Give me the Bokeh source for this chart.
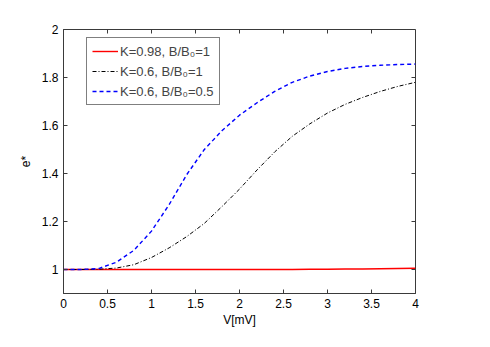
import math
from bokeh.plotting import figure
from bokeh.models import Range1d, FixedTicker
from bokeh.embed import file_html
from bokeh.resources import INLINE

# ---- data ----
V = [0.0, 0.2, 0.4, 0.6, 0.8, 1.0, 1.2, 1.4, 1.6, 1.8, 2.0,
     2.2, 2.4, 2.6, 2.8, 3.0, 3.2, 3.4, 3.6, 3.8, 4.0]
e_K098_B1 = [1.000, 1.000, 1.000, 1.000, 1.000, 1.000, 1.000, 1.000, 1.000, 1.000, 1.000,
             1.000, 1.000, 1.000, 1.001, 1.001, 1.002, 1.002, 1.003, 1.004, 1.005]
e_K06_B1 = [1.000, 1.000, 1.001, 1.006, 1.020, 1.050, 1.090, 1.137, 1.192, 1.262, 1.335,
            1.415, 1.490, 1.555, 1.607, 1.652, 1.688, 1.717, 1.742, 1.763, 1.780]
e_K06_B05 = [1.000, 1.000, 1.004, 1.030, 1.080, 1.160, 1.270, 1.395, 1.500, 1.578, 1.643,
             1.695, 1.742, 1.780, 1.806, 1.825, 1.838, 1.846, 1.851, 1.854, 1.856]
labels = ["K=0.98, B/B\u2080=1", "K=0.6, B/B\u2080=1", "K=0.6, B/B\u2080=0.5"]
x_ticks = [0, 0.5, 1, 1.5, 2, 2.5, 3, 3.5, 4]
y_ticks = [1, 1.2, 1.4, 1.6, 1.8, 2]
x_label = "V[mV]"
y_label = "e*"

FONT = "Liberation Sans"
AX = "#3a3a3a"
X0, X1 = 0, 4
Y0, Y1 = 0.9, 2.0

p = figure(width=482, height=339, output_backend="svg", toolbar_location=None,
           x_range=Range1d(X0, X1), y_range=Range1d(Y0, Y1),
           min_border_left=63, min_border_right=67, min_border_top=29, min_border_bottom=46,
           background_fill_color="white", border_fill_color="white")
p.grid.visible = False
p.outline_line_color = AX

p.line(V, e_K098_B1, line_color="#ff0000", line_width=1.4, legend_label=labels[0])
p.line(V, e_K06_B1, line_color="black", line_width=1.0, line_dash="4 2 1 2", legend_label=labels[1])
p.line(V, e_K06_B05, line_color="#0000ff", line_width=1.4, line_dash="4 3", legend_label=labels[2])

# inward ticks on the top and right edges (box on)
p.ray(x=x_ticks, y=[Y1] * len(x_ticks), length=4, length_units="screen",
      angle=-math.pi / 2, line_color=AX, line_width=1)
p.ray(x=[X1] * len(y_ticks), y=y_ticks, length=4, length_units="screen",
      angle=math.pi, line_color=AX, line_width=1)

for ax in (p.xaxis[0], p.yaxis[0]):
    ax.axis_line_color = AX
    ax.major_tick_line_color = AX
    ax.major_tick_in = 4
    ax.major_tick_out = 0
    ax.minor_tick_line_color = None
    ax.major_label_text_font = FONT
    ax.major_label_text_font_size = "12px"
    ax.major_label_text_color = "black"
    ax.axis_label_text_font = FONT
    ax.axis_label_text_font_size = "12px"
    ax.axis_label_text_font_style = "normal"
    ax.axis_label_text_color = "black"
    ax.major_label_standoff = 5

p.xaxis.ticker = FixedTicker(ticks=x_ticks)
p.yaxis.ticker = FixedTicker(ticks=y_ticks)
p.xaxis.axis_label = x_label
p.yaxis.axis_label = y_label
p.xaxis.axis_label_standoff = 2
p.yaxis.axis_label_standoff = 6

lg = p.legend[0]
lg.location = (23, 188)
lg.label_text_font = FONT
lg.label_text_font_size = "13px"
lg.glyph_width = 26
lg.glyph_height = 16
lg.label_height = 16
lg.label_standoff = 2
lg.spacing = 4
lg.padding = 5
lg.margin = 0
lg.border_line_color = "black"
lg.border_line_width = 1
lg.background_fill_color = "white"
lg.background_fill_alpha = 1

open("out.html", "w").write(file_html(p, INLINE))
